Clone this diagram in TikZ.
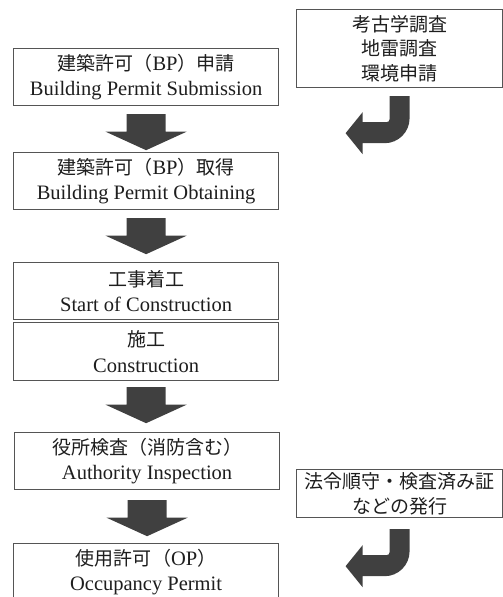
\documentclass[tikz,border=0pt]{standalone}
\usepackage{fontspec}
\setmainfont{Liberation Serif}
\newfontfamily\cjkfont{Noto Sans CJK JP}[Scale=0.927]
\newcommand\jtext[1]{{\cjkfont #1}}
\usetikzlibrary{calc}
\definecolor{boxgray}{HTML}{555555}
\definecolor{arrowgray}{HTML}{404040}
\definecolor{textdark}{HTML}{1E1E1E}
\begin{document}
\begin{tikzpicture}[x=1pt,y=-1pt,
  stepbox/.style={draw=boxgray, line width=1.2pt, fill=white, inner sep=0pt,
    align=center, anchor=north west, minimum width=265pt, minimum height=57pt,
    font=\fontsize{20.5}{25.5}\selectfont, text=textdark},
  notebox/.style={draw=boxgray, line width=1.2pt, fill=white, inner sep=0pt,
    align=center, anchor=north west, minimum width=206pt,
    font=\fontsize{20.5}{24.5}\selectfont, text=textdark},
  bdown/.pic={\fill[arrowgray] (-19.5,0) -- (19.5,0) -- (19.5,17.5) -- (40.5,17.5)
     -- (0,36) -- (-40.5,17.5) -- (-19.5,17.5) -- cycle;},
  uturn/.pic={\fill[arrowgray] (0,0) -- (20,0) -- (20,22)
     .. controls (20,35.8) and (8.8,47) .. (-5,47) -- (-27,47) -- (-27,58)
     -- (-44,37) -- (-27,16) -- (-27,26) -- (-3,26)
     .. controls (-1.3,26) and (0,24.7) .. (0,23) -- cycle;}
]
\useasboundingbox (0,0) rectangle (503,597);
\clip (0,0) rectangle (503,597);

\node[stepbox] (b1) at (13,48) {\jtext{建築許可（}BP\jtext{）申請}\\Building Permit Submission};
\node[stepbox] (b2) at (13,152) {\jtext{建築許可（}BP\jtext{）取得}\\Building Permit Obtaining};
\node[stepbox] (b3) at (13,262) {\jtext{工事着工}\\Start of Construction};
\node[stepbox, minimum height=58pt] (b4) at (13,322) {\jtext{施工}\\Construction};
\node[stepbox] (b5) at (14,432) {\jtext{役所検査（消防含む）}\\Authority Inspection};
\node[stepbox] (b6) at (13,543) {\jtext{使用許可（}OP\jtext{）}\\Occupancy Permit};

\node[notebox, minimum height=78pt] (r1) at (296,9) {\jtext{考古学調査}\\\jtext{地雷調査}\\\jtext{環境申請}};
\node[notebox, minimum height=48pt] (r2) at (296,469) {\jtext{法令順守・検査済み証}\\\jtext{などの発行}};

\pic at ($(b1.south)+(0,8)$) {bdown};
\pic at ($(b2.south)+(0,8)$) {bdown};
\pic at ($(b4.south)+(0,6)$) {bdown};
\pic at ($(b5.south)+(0,10)$) {bdown};

\pic at ($(r1.south)+(-10,8)$) {uturn};
\pic at ($(r2.south)+(-10,11)$) {uturn};
\end{tikzpicture}
\end{document}
